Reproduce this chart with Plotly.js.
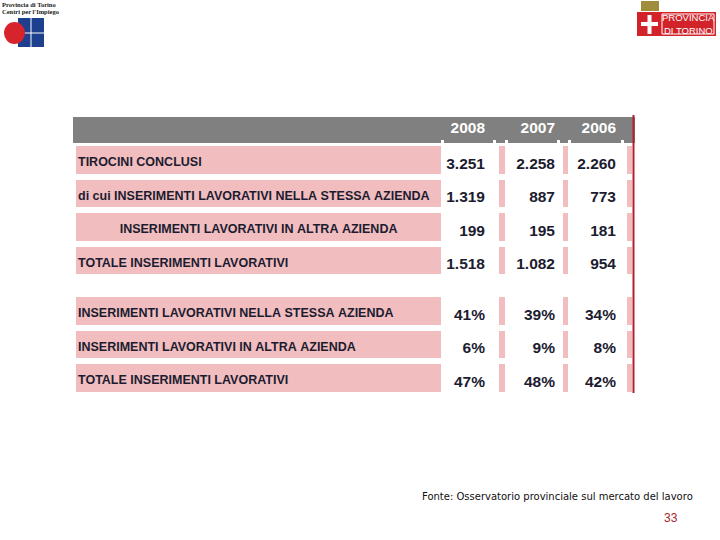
<!DOCTYPE html>
<html>
<head>
<meta charset="utf-8">
<script src="https://cdn.plot.ly/plotly-3.0.1.min.js"></script>
<style>
  html, body { margin: 0; padding: 0; background: #fff; }
  #chart { width: 720px; height: 540px; }
</style>
</head>
<body>
<div id="chart"></div>
<script>
const years = ['2008', '2007', '2006'];
const countLabels = [
  'TIROCINI CONCLUSI',
  'di cui INSERIMENTI LAVORATIVI NELLA STESSA AZIENDA',
  'INSERIMENTI LAVORATIVI IN ALTRA AZIENDA',
  'TOTALE INSERIMENTI LAVORATIVI'
];
const countIndent = [0, 0, 1, 0];
const counts2008 = [3251, 1319, 199, 1518];
const counts2007 = [2258, 887, 195, 1082];
const counts2006 = [2260, 773, 181, 954];

const shareLabels = [
  'INSERIMENTI LAVORATIVI NELLA STESSA AZIENDA',
  'INSERIMENTI LAVORATIVI IN ALTRA AZIENDA',
  'TOTALE INSERIMENTI LAVORATIVI'
];
const shares2008 = [41, 6, 47];
const shares2007 = [39, 9, 48];
const shares2006 = [34, 8, 42];

const PINK = '#f1bdbf';
const GREY = '#808080';
const INK = '#1c1c30';
const CLEAR = 'rgba(0,0,0,0)';
const FONT = 'Liberation Sans, Arial, sans-serif';
const W = 720, H = 540;

// italian style thousands: 3.251
function fmt(n) {
  return String(n).replace(/\B(?=(\d{3})+(?!\d))/g, '.');
}
const pct = v => v + '%';
// non-breaking spaces so the table never wraps the labels
function spaced(s, indent) {
  const pad = indent ? '\u00a0'.repeat(12) : '';
  return pad + s.split(' ').join('\u00a0');
}
function blank(n) {
  return new Array(n).fill('');
}
function px(x) { return x / W; }
function py(y) { return 1 - y / H; }

// backgrounds: label | 2008 | strip | 2007 | strip | 2006 | strip
const fillWidths = [371, 52, 12, 52, 11, 53, 11];
const fillColors = [PINK, '#ffffff', PINK, '#ffffff', PINK, '#ffffff', PINK];
// text layer sits on top, a little lower than the cell tops
const textWidths = [374, 49, 18, 52, 8, 53, 11];
const colAlign = ['left', 'right', 'left', 'right', 'left', 'right', 'left'];
const colSize = [12.5, 15.5, 15.5, 15.5, 15.5, 15.5, 15.5];
const rowH = 33.5;
const textDrop = 6;

const cellFont = { family: FONT, size: colSize, color: INK, weight: 'bold' };
const gapLine = { color: '#ffffff', width: 6 };
const noLine = { color: CLEAR, width: 0 };

const countValues = [
  countLabels.map((s, i) => spaced(s, countIndent[i])),
  counts2008.map(fmt), blank(4),
  counts2007.map(fmt), blank(4),
  counts2006.map(fmt), blank(4)
];
const shareHead = [spaced(shareLabels[0]), pct(shares2008[0]), '', pct(shares2007[0]), '', pct(shares2006[0]), ''];
const shareValues = [
  shareLabels.slice(1).map(s => spaced(s)),
  shares2008.slice(1).map(pct), blank(2),
  shares2007.slice(1).map(pct), blank(2),
  shares2006.slice(1).map(pct), blank(2)
];

const countsFill = {
  type: 'table',
  domain: { x: [px(73), px(635)], y: [py(280), py(117)] },
  columnwidth: fillWidths,
  header: { values: blank(7), fill: { color: GREY }, line: { color: GREY, width: 0 }, height: 26 },
  cells: { values: countValues.map(c => blank(c.length)), fill: { color: fillColors }, line: gapLine, height: rowH }
};

const countsText = {
  type: 'table',
  domain: { x: [px(70), px(635)], y: [py(286), py(113)] },
  columnwidth: textWidths,
  header: {
    values: ['', years[0], '', years[1], '', years[2], ''],
    fill: { color: CLEAR },
    line: noLine,
    align: 'right',
    height: 26 + 4 + textDrop,
    font: { family: FONT, size: 15.5, color: '#ffffff', weight: 'bold' }
  },
  cells: { values: countValues, fill: { color: CLEAR }, line: noLine, align: colAlign, height: rowH, font: cellFont }
};

const sharesFill = {
  type: 'table',
  domain: { x: [px(73), px(635)], y: [py(398), py(294)] },
  columnwidth: fillWidths,
  header: { values: blank(7), fill: { color: fillColors }, line: gapLine, height: rowH },
  cells: { values: shareValues.map(c => blank(c.length)), fill: { color: fillColors }, line: gapLine, height: rowH }
};

const sharesText = {
  type: 'table',
  domain: { x: [px(70), px(635)], y: [py(404), py(294 + textDrop)] },
  columnwidth: textWidths,
  header: { values: shareHead, fill: { color: CLEAR }, line: noLine, align: colAlign, height: rowH, font: cellFont },
  cells: { values: shareValues, fill: { color: CLEAR }, line: noLine, align: colAlign, height: rowH, font: cellFont }
};

const shapes = [
  // red rule on the right of the table
  { type: 'line', xref: 'paper', yref: 'paper', x0: px(633.5), x1: px(633.5), y0: py(115), y1: py(393),
    line: { color: '#b3202c', width: 2 } },
  // logo left: puzzle pieces
  { type: 'rect', xref: 'paper', yref: 'paper', x0: px(18), x1: px(44), y0: py(47), y1: py(18),
    fillcolor: '#1d3f8e', line: { width: 0 } },
  { type: 'line', xref: 'paper', yref: 'paper', x0: px(31), x1: px(31), y0: py(47), y1: py(18),
    line: { color: '#ffffff', width: 1 } },
  { type: 'line', xref: 'paper', yref: 'paper', x0: px(18), x1: px(44), y0: py(33), y1: py(33),
    line: { color: '#ffffff', width: 1 } },
  { type: 'circle', xref: 'paper', yref: 'paper', x0: px(4), x1: px(25), y0: py(44), y1: py(22),
    fillcolor: '#d7232c', line: { width: 0 } },
  // logo right
  { type: 'rect', xref: 'paper', yref: 'paper', x0: px(637), x1: px(716), y0: py(36), y1: py(12),
    fillcolor: '#d2232a', line: { width: 0 } },
  { type: 'rect', xref: 'paper', yref: 'paper', x0: px(662), x1: px(714), y0: py(34), y1: py(14),
    fillcolor: CLEAR, line: { color: '#ffffff', width: 1 } },
  { type: 'rect', xref: 'paper', yref: 'paper', x0: px(647.5), x1: px(651.5), y0: py(34), y1: py(15),
    fillcolor: '#ffffff', line: { width: 0 } },
  { type: 'rect', xref: 'paper', yref: 'paper', x0: px(641), x1: px(658), y0: py(26), y1: py(22),
    fillcolor: '#ffffff', line: { width: 0 } },
  { type: 'rect', xref: 'paper', yref: 'paper', x0: px(641), x1: px(659), y0: py(11), y1: py(1),
    fillcolor: '#a08d3c', line: { width: 0 } }
];

const annotations = [
  { text: 'Provincia di Torino', x: px(1), y: py(4), xanchor: 'left', yanchor: 'middle',
    font: { family: 'Liberation Serif', size: 6.5, color: '#222', weight: 'bold' } },
  { text: "Centri per l'Impiego", x: px(1), y: py(11), xanchor: 'left', yanchor: 'middle',
    font: { family: 'Liberation Serif', size: 6.5, color: '#222', weight: 'bold' } },
  { text: 'PROVINCIA', x: px(688), y: py(18), xanchor: 'center', yanchor: 'middle',
    font: { family: 'Liberation Sans', size: 9.5, color: '#ffffff' } },
  { text: 'DI TORINO', x: px(688), y: py(30.5), xanchor: 'center', yanchor: 'middle',
    font: { family: 'Liberation Sans', size: 9.5, color: '#ffffff' } },
  { text: 'Fonte: Osservatorio provinciale sul mercato del lavoro', x: px(421), y: py(496),
    xanchor: 'left', yanchor: 'middle', font: { family: 'DejaVu Sans', size: 10, color: '#111' } },
  { text: '33', x: px(670.5), y: py(518), xanchor: 'center', yanchor: 'middle',
    font: { family: 'Liberation Sans', size: 12, color: '#a8282c' } }
].map(a => Object.assign({ xref: 'paper', yref: 'paper', showarrow: false, borderpad: 0 }, a));

const layout = {
  width: W,
  height: H,
  margin: { t: 0, r: 0, b: 0, l: 0 },
  paper_bgcolor: '#ffffff',
  plot_bgcolor: '#ffffff',
  showlegend: false,
  shapes: shapes,
  annotations: annotations
};

Plotly.newPlot('chart', [countsFill, sharesFill, countsText, sharesText], layout, { staticPlot: true, displayModeBar: false });
</script>
</body>
</html>
